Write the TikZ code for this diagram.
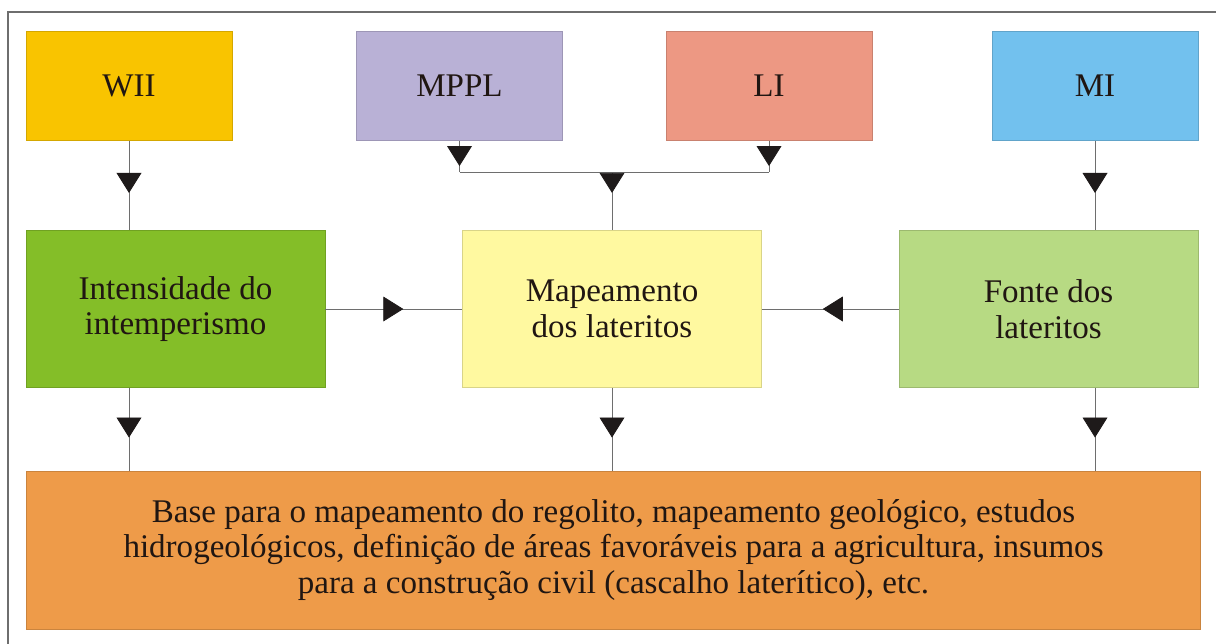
\documentclass[tikz,border=0pt]{standalone}
\usepackage{fontspec}
\setmainfont{Liberation Serif}
\newfontfamily\diagfont{Liberation Serif}
\usetikzlibrary{arrows.meta,decorations.markings}

\definecolor{wiicol}{RGB}{249,196,0}
\definecolor{mpplcol}{RGB}{185,177,214}
\definecolor{licol}{RGB}{237,152,131}
\definecolor{micol}{RGB}{114,193,238}
\definecolor{intenscol}{RGB}{132,190,40}
\definecolor{mapacol}{RGB}{255,249,160}
\definecolor{fontecol}{RGB}{183,218,131}
\definecolor{basecol}{RGB}{238,155,73}
\definecolor{txtcol}{RGB}{32,22,18}
\definecolor{linecol}{RGB}{110,110,110}
\definecolor{tipcol}{RGB}{30,26,26}

\tikzset{
    box/.style={
        rectangle,
        draw=#1!85!black,
        fill=#1,
        line width=0.5pt,
        inner sep=0pt,
        align=center,
        text=txtcol,
        font=\diagfont\fontsize{23.5}{25.5}\selectfont
    },
    smallbox/.style={box=#1, minimum width=5.15cm, minimum height=2.72cm},
    midbox/.style={box=#1, minimum width=7.48cm, minimum height=3.93cm},
    link/.style={draw=linecol, line width=0.6pt},
    flow/.style={
        link,
        postaction={decorate},
        decoration={markings,
            mark=at position #1 with {\arrow{Triangle[width=0.62cm,length=0.5cm,color=tipcol]}}}
    }
}

\begin{document}
\begin{tikzpicture}[x=0.025cm, y=-0.025cm]
    \useasboundingbox (0,0) rectangle (1216,644);

    % Frame (left and top edges)
    \draw[linecol, line width=0.8pt] (8,644) -- (8,12) -- (1216,12);

    % Top row
    \node[smallbox=wiicol]  (wii)  at (129,86)   {WII};
    \node[smallbox=mpplcol] (mppl) at (459.5,86) {MPPL};
    \node[smallbox=licol]   (li)   at (769,86)   {LI};
    \node[smallbox=micol]   (mi)   at (1095,86)  {MI};

    % Middle row
    \node[midbox=intenscol] (intens) at (175.5,309) {Intensidade do\\intemperismo};
    \node[midbox=mapacol]   (mapa)   at (612,309)   {Mapeamento\\dos lateritos};
    \node[midbox=fontecol]  (fonte)  at (1048.5,309) {Fonte dos\\lateritos};

    % Bottom box
    \node[box=basecol, minimum width=29.33cm, minimum height=3.95cm] (base) at (613.5,550)
        {Base para o mapeamento do regolito, mapeamento geológico, estudos\\
         hidrogeológicos, definição de áreas favoráveis para a agricultura, insumos\\
         para a construção civil (cascalho laterítico), etc.};

    % Bracket joining MPPL and LI
    \coordinate (barL) at (459.5,172);
    \coordinate (barR) at (769,172);
    \coordinate (barM) at (612,172);

    % Connectors
    \draw[flow=0.585] (wii.south) -- (wii.south |- intens.north);
    \draw[flow=0.585] (mi.south) -- (mi.south |- fonte.north);
    \draw[flow=0.81] (mppl.south) -- (barL);
    \draw[flow=0.81] (li.south) -- (barR);
    \draw[link] (barL) -- (barR);
    \draw[flow=0.36] (barM) -- (mapa.north);

    \draw[flow=0.57] (intens.east) -- (mapa.west);
    \draw[flow=0.555] (fonte.west) -- (mapa.east);

    \draw[flow=0.6] (wii.south |- intens.south) -- (wii.south |- base.north);
    \draw[flow=0.6] (mapa.south) -- (mapa.south |- base.north);
    \draw[flow=0.6] (mi.south |- fonte.south) -- (mi.south |- base.north);
\end{tikzpicture}
\end{document}
